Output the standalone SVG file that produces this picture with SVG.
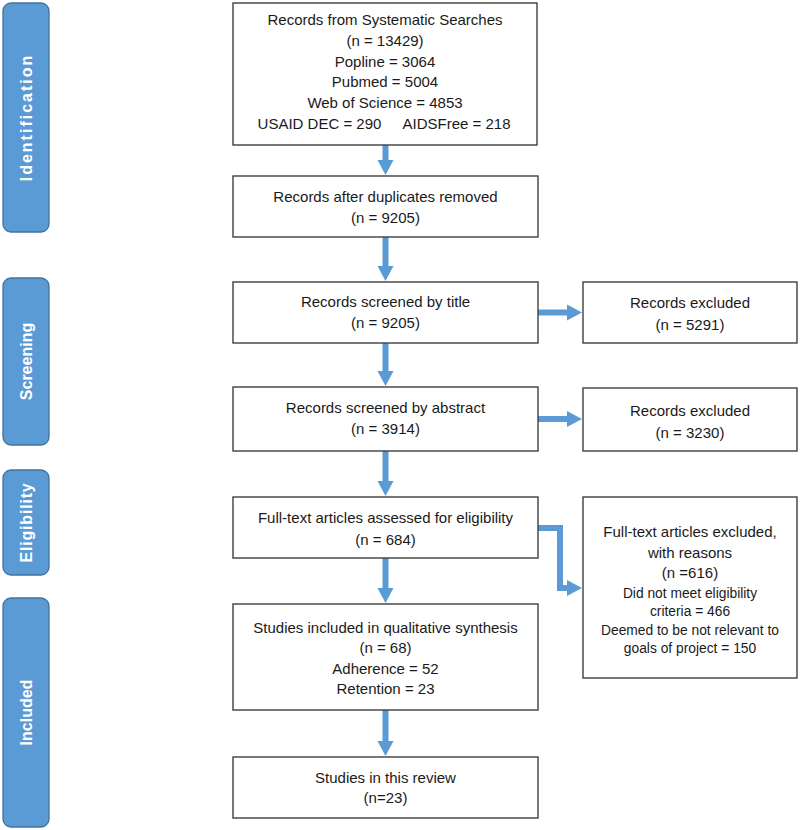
<svg xmlns="http://www.w3.org/2000/svg" width="800" height="830" viewBox="0 0 800 830">
<style>
.bg{fill:#ffffff}
.box{fill:#ffffff;stroke:#3f3f3f;stroke-width:1.4}
.side{fill:#5B9BD5;stroke:#41719C;stroke-width:1.3}
.t{font-family:"Liberation Sans",Arial,sans-serif;font-size:15px;fill:#1a1a1a;text-anchor:middle}
.s{font-family:"Liberation Sans",Arial,sans-serif;font-size:13.8px;fill:#1a1a1a;text-anchor:middle}
.lab{font-family:"Liberation Sans",Arial,sans-serif;font-size:16px;font-weight:bold;fill:#ffffff;text-anchor:middle}
.arr{fill:none;stroke:#5B9BD5;stroke-width:6}
</style>
<defs>
<marker id="ah" markerUnits="userSpaceOnUse" markerWidth="17" markerHeight="18" viewBox="0 -9 17 18" refX="1" refY="0" orient="auto">
<path d="M0,-8 L15,0 L0,8 Z" fill="#5B9BD5"/>
</marker>
</defs>
<rect class="bg" x="0" y="0" width="800" height="830"/>

<g id="phase-identification">
<rect class="side" x="3" y="3" width="46" height="229" rx="8"/>
<text class="lab" transform="translate(26,117.5) rotate(-90)" x="0" y="5.5" letter-spacing="2">Identification</text>
</g>
<g id="phase-screening">
<rect class="side" x="3" y="278" width="46" height="167" rx="8"/>
<text class="lab" transform="translate(26,361.5) rotate(-90)" x="0" y="5.5">Screening</text>
</g>
<g id="phase-eligibility">
<rect class="side" x="3" y="470" width="46" height="105" rx="8"/>
<text class="lab" transform="translate(26,522.5) rotate(-90)" x="0" y="5.5" letter-spacing="0.8">Eligibility</text>
</g>
<g id="phase-included">
<rect class="side" x="3" y="598" width="46" height="229" rx="8"/>
<text class="lab" transform="translate(26,712.5) rotate(-90)" x="0" y="5.5">Included</text>
</g>

<g id="connectors">
<line class="arr" x1="385.5" y1="145" x2="385.5" y2="161" marker-end="url(#ah)"/>
<line class="arr" x1="385.5" y1="237" x2="385.5" y2="267" marker-end="url(#ah)"/>
<line class="arr" x1="385.5" y1="343" x2="385.5" y2="372" marker-end="url(#ah)"/>
<line class="arr" x1="385.5" y1="451" x2="385.5" y2="482" marker-end="url(#ah)"/>
<line class="arr" x1="385.5" y1="558" x2="385.5" y2="589" marker-end="url(#ah)"/>
<line class="arr" x1="385.5" y1="710" x2="385.5" y2="742" marker-end="url(#ah)"/>
<line class="arr" x1="538" y1="312.5" x2="568" y2="312.5" marker-end="url(#ah)"/>
<line class="arr" x1="538" y1="419" x2="568" y2="419" marker-end="url(#ah)"/>
<path class="arr" d="M538,528 L560,528 L560,588 L568,588" marker-end="url(#ah)"/>
</g>

<g id="n-records-searches">
<rect class="box" x="233" y="3" width="304" height="142"/>
<text class="t" x="385" y="25">Records from Systematic Searches</text>
<text class="t" x="385" y="46">(n = 13429)</text>
<text class="t" x="385" y="67">Popline = 3064</text>
<text class="t" x="385" y="87">Pubmed = 5004</text>
<text class="t" x="385" y="108">Web of Science = 4853</text>
<text class="t" x="319.5" y="129">USAID DEC = 290</text>
<text class="t" x="456.5" y="129">AIDSFree = 218</text>
</g>
<g id="n-duplicates-removed">
<rect class="box" x="233" y="176" width="305" height="61"/>
<text class="t" x="385.5" y="202">Records after duplicates removed</text>
<text class="t" x="385.5" y="223">(n = 9205)</text>
</g>
<g id="n-screened-title">
<rect class="box" x="233" y="282" width="305" height="61"/>
<text class="t" x="385.5" y="307">Records screened by title</text>
<text class="t" x="385.5" y="328">(n = 9205)</text>
</g>
<g id="n-screened-abstract">
<rect class="box" x="233" y="387" width="305" height="64"/>
<text class="t" x="385.5" y="413">Records screened by abstract</text>
<text class="t" x="385.5" y="434">(n = 3914)</text>
</g>
<g id="n-fulltext-assessed">
<rect class="box" x="233" y="497" width="305" height="61"/>
<text class="t" x="385.5" y="523">Full-text articles assessed for eligibility</text>
<text class="t" x="385.5" y="545">(n = 684)</text>
</g>
<g id="n-qualitative">
<rect class="box" x="233" y="604" width="305" height="106"/>
<text class="t" x="385.5" y="633">Studies included in qualitative synthesis</text>
<text class="t" x="385.5" y="653">(n = 68)</text>
<text class="t" x="385.5" y="674">Adherence = 52</text>
<text class="t" x="385.5" y="694">Retention = 23</text>
</g>
<g id="n-review">
<rect class="box" x="233" y="757" width="305" height="61"/>
<text class="t" x="385.5" y="783">Studies in this review</text>
<text class="t" x="385.5" y="803">(n=23)</text>
</g>
<g id="n-excluded-title">
<rect class="box" x="583" y="282" width="214" height="61"/>
<text class="t" x="690" y="308">Records excluded</text>
<text class="t" x="690" y="330">(n = 5291)</text>
</g>
<g id="n-excluded-abstract">
<rect class="box" x="583" y="388" width="214" height="63"/>
<text class="t" x="690" y="416">Records excluded</text>
<text class="t" x="690" y="438">(n = 3230)</text>
</g>
<g id="n-excluded-fulltext">
<rect class="box" x="583" y="497" width="214" height="181"/>
<text class="t" x="690" y="537">Full-text articles excluded,</text>
<text class="t" x="690" y="558">with reasons</text>
<text class="t" x="690" y="578">(n =616)</text>
<text class="s" x="690" y="598">Did not meet eligibility</text>
<text class="s" x="690" y="616">criteria = 466</text>
<text class="s" x="690" y="635">Deemed to be not relevant to</text>
<text class="s" x="690" y="653">goals of project = 150</text>
</g>
</svg>
